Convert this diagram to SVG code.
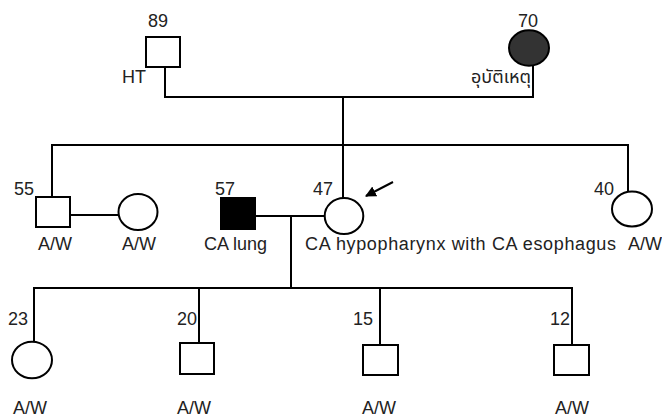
<svg xmlns="http://www.w3.org/2000/svg" width="662" height="419" viewBox="0 0 662 419">
<defs>
<style>
.ln{fill:none;stroke:#000;stroke-width:2}
.sh{fill:#fff;stroke:#000;stroke-width:2}
.t{font-family:"Liberation Sans","Noto Sans Thai",sans-serif;font-size:18px;fill:#222}
</style>
<marker id="ah" viewBox="0 0 10 10" refX="9" refY="5" markerWidth="5.5" markerHeight="5.5" orient="auto" markerUnits="strokeWidth">
<path d="M0,0 L10,5 L0,10 z" fill="#000"/>
</marker>
</defs>
<rect width="662" height="419" fill="#fff"/>
<g id="connectors">
<polyline class="ln" points="165,67 165,97 533,97 533,66"/>
<line class="ln" x1="343" y1="97" x2="343" y2="198"/>
<polyline class="ln" points="52,197 52,145 628,145 628,192"/>
<line class="ln" x1="70" y1="215" x2="119" y2="215"/>
<line class="ln" x1="255" y1="216" x2="325" y2="216"/>
<line class="ln" x1="291" y1="216" x2="291" y2="288"/>
<polyline class="ln" points="34,342 34,288 572,288 572,345"/>
<line class="ln" x1="199" y1="288" x2="199" y2="343"/>
<line class="ln" x1="380" y1="288" x2="380" y2="345"/>
<line class="ln" x1="393" y1="182" x2="366" y2="196" stroke="#000" stroke-width="2.5" marker-end="url(#ah)"/>
</g>
<g id="n89">
<rect class="sh" x="146" y="37" width="34" height="30"/>
<text class="t" x="148" y="27">89</text>
<text class="t" x="122" y="83">HT</text>
</g>
<g id="n70">
<ellipse cx="529" cy="48" rx="20" ry="17.7" fill="#333" stroke="#000" stroke-width="2"/>
<text class="t" x="518" y="27">70</text>
<text class="t" x="531" y="83" text-anchor="end">อุบัติเหตุ</text>
</g>
<g id="n55">
<rect class="sh" x="36" y="197" width="34" height="30"/>
<text class="t" x="14" y="195">55</text>
<text class="t" x="38" y="250">A/W</text>
</g>
<g id="n55spouse">
<ellipse class="sh" cx="138" cy="212" rx="19.5" ry="18"/>
<text class="t" x="122" y="250">A/W</text>
</g>
<g id="n57">
<rect x="221" y="198" width="34" height="31" fill="#000" stroke="#000" stroke-width="2"/>
<text class="t" x="215" y="195">57</text>
<text class="t" x="204" y="250">CA lung</text>
</g>
<g id="n47">
<ellipse class="sh" cx="344" cy="216" rx="19.3" ry="18"/>
<text class="t" x="313" y="195">47</text>
<text class="t" x="305" y="250" textLength="311">CA hypopharynx with CA esophagus</text>
</g>
<g id="n40">
<ellipse class="sh" cx="632" cy="209" rx="20" ry="17.5"/>
<text class="t" x="594" y="195">40</text>
<text class="t" x="628" y="250">A/W</text>
</g>
<g id="n23">
<ellipse class="sh" cx="32" cy="360" rx="20" ry="18.3"/>
<text class="t" x="8" y="325">23</text>
<text class="t" x="13" y="414">A/W</text>
</g>
<g id="n20">
<rect class="sh" x="180" y="343" width="34" height="31"/>
<text class="t" x="177" y="325">20</text>
<text class="t" x="177" y="414">A/W</text>
</g>
<g id="n15">
<rect class="sh" x="363" y="345" width="35" height="30"/>
<text class="t" x="353" y="325">15</text>
<text class="t" x="362" y="414">A/W</text>
</g>
<g id="n12">
<rect class="sh" x="554" y="345" width="35" height="30"/>
<text class="t" x="550" y="325">12</text>
<text class="t" x="555" y="414">A/W</text>
</g>
</svg>
